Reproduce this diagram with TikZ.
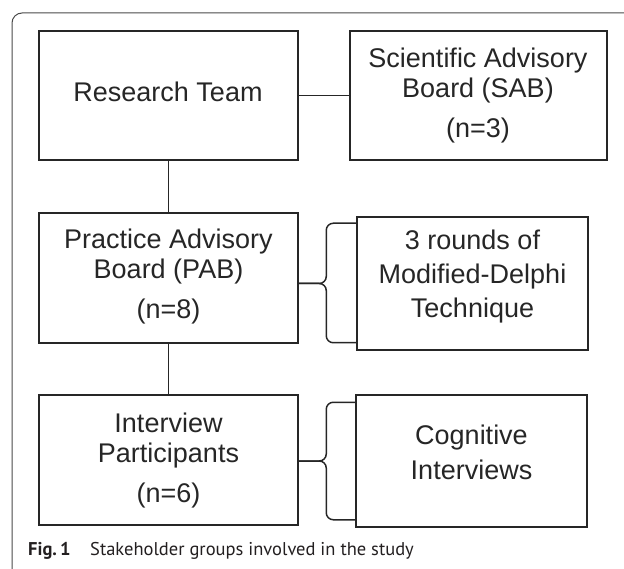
\documentclass[tikz,border=0pt]{standalone}
\usepackage{fontspec}
\setmainfont{Liberation Sans}
\newfontfamily\capfont{PT Sans}
\usepackage{tikz}
\usetikzlibrary{calc,positioning}
\definecolor{ink}{HTML}{262626}
\definecolor{rim}{HTML}{4A4A4A}
\definecolor{captxt}{HTML}{231F20}
\tikzset{
  box/.style={draw=ink, line width=1.5pt, inner sep=0pt},
  link/.style={draw=ink, line width=1.5pt, line join=round},
  lab/.style={text=ink, align=center, anchor=base, inner sep=0pt, font=\fontsize{27}{30}\selectfont},
  labw/.style={lab, font=\fontsize{27}{34}\selectfont},
  captext/.style={text=captxt, anchor=base west, inner sep=0pt, font=\capfont\fontsize{18.5}{22}\selectfont},
}

\begin{document}
\begin{tikzpicture}[x=1pt,y=-1pt]
\useasboundingbox (0,0) rectangle (624,569);
\clip (0,0) rectangle (624,569);
% figure frame
\draw[draw=rim, line width=1pt, rounded corners=10pt] (640,13) -- (12,13) -- (12,580) -- (40,580);
% boxes
\node[box, minimum width=259pt, minimum height=129pt] (team) at (168.5,95.5) {};
\node[box, minimum width=257pt, minimum height=129pt] (sab) at (478.5,95.5) {};
\node[box, minimum width=259pt, minimum height=130pt] (pab) at (168.5,278) {};
\node[box, minimum width=231pt, minimum height=133pt] (delphi) at (472.5,283.5) {};
\node[box, minimum width=259pt, minimum height=130pt] (part) at (168.5,460) {};
\node[box, minimum width=231pt, minimum height=132pt] (cog) at (471.5,461) {};
% texts (anchored at the last baseline)
\node[lab] (teamtxt) at (168,102) {Research Team};
\node[lab] (sabtxt) at (478,138) {Scientific Advisory\\Board (SAB)\\[10pt](n=3)};
\node[lab] (pabtxt) at (168.5,319) {Practice Advisory\\Board (PAB)\\[10pt](n=8)};
\node[labw] (delphitxt) at (472.5,318) {3 rounds of\\Modified-Delphi\\Technique};
\node[lab] (parttxt) at (168.5,502) {Interview\\Participants\\[10pt](n=6)};
\node[labw, font=\fontsize{27}{35}\selectfont] (cogtxt) at (471.5,479) {Cognitive\\Interviews};
% links
\draw[link] (team) -- (sab);
\draw[link] (team) -- (pab);
\draw[link] (pab) -- (part);
% braces
\coordinate (dtip) at ($(delphi.west)+(-30,0)$);
\draw[link, rounded corners=7pt] ($(delphi.north west)+(0,7)$) -| (dtip) -- (pab.east |- dtip);
\draw[link, rounded corners=7pt] ($(delphi.south west)+(0,-8)$) -| (dtip) -- (pab.east |- dtip);
\coordinate (ctip) at ($(cog.west)+(-29,0)$);
\draw[link, rounded corners=7pt] ($(cog.north west)+(0,8)$) -| (ctip) -- (part.east |- ctip);
\draw[link, rounded corners=7pt] ($(cog.south west)+(0,-8)$) -| (ctip) -- (part.east |- ctip);
% caption
\node[captext, font=\capfont\bfseries\fontsize{18.5}{22}\selectfont] (fignum) at (28,555) {Fig.\,1};
\node[captext] (figtitle) at (90,555) {Stakeholder groups involved in the study};
\end{tikzpicture}
\end{document}
